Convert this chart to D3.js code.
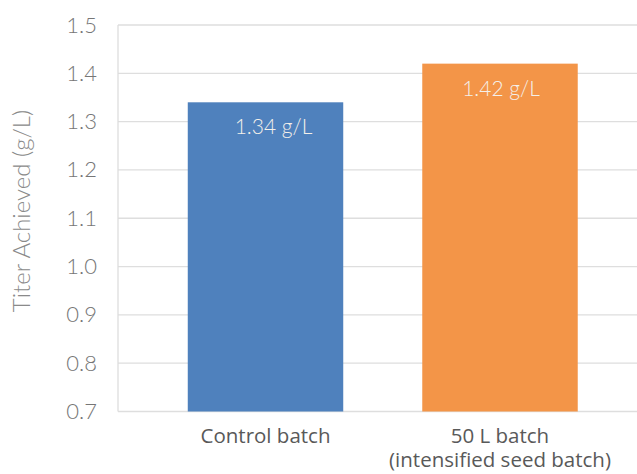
<!DOCTYPE html>
<html>
<head>
<meta charset="utf-8">
<script src="https://cdn.jsdelivr.net/npm/d3@7"></script>
<style>
  html, body { margin: 0; padding: 0; background: #fff; }
  svg { display: block; }
</style>
</head>
<body>
<svg id="chart" width="637" height="474"></svg>
<script>
// Batch titers (g/L)
const categories = ["Control batch", "50 L batch\n(intensified seed batch)"];
const titers = [1.34, 1.42];
const barColors = ["#4f81bd", "#f39548"];
const yTicks = [0.7, 0.8, 0.9, 1.0, 1.1, 1.2, 1.3, 1.4, 1.5];
const yTitle = "Titer Achieved (g/L)";

const svg = d3.select("#chart");
const plotLeft = 118, plotRight = 647.5, plotTop = 25, plotBottom = 411.5;

const x = d3.scaleBand()
  .domain(categories)
  .range([plotLeft, plotRight])
  .paddingInner(0.337)
  .paddingOuter(0.2975);

const y = d3.scaleLinear()
  .domain([0.7, 1.5])
  .range([plotBottom, plotTop]);

// horizontal gridlines
svg.append("g")
  .selectAll("line")
  .data(yTicks)
  .join("line")
  .attr("x1", plotLeft).attr("x2", 637)
  .attr("y1", d => y(d)).attr("y2", d => y(d))
  .attr("stroke", "#dedede")
  .attr("stroke-width", 1.3);

// left axis line
svg.append("line")
  .attr("x1", plotLeft).attr("x2", plotLeft)
  .attr("y1", y(1.5)).attr("y2", y(0.7))
  .attr("stroke", "#dedede")
  .attr("stroke-width", 1.3);

// y axis tick labels
const yAxis = d3.axisLeft(y)
  .tickValues(yTicks)
  .tickFormat(d3.format(".1f"))
  .tickSize(0)
  .tickPadding(21);
const gy = svg.append("g")
  .attr("transform", `translate(${plotLeft},0)`)
  .call(yAxis);
gy.select(".domain").remove();
gy.selectAll("text")
  .attr("fill", "#767676")
  .style("font-family", "Lato, 'Noto Sans', sans-serif")
  .style("font-weight", "300")
  .style("font-size", "22px");

// bars
svg.append("g")
  .selectAll("rect")
  .data(titers)
  .join("rect")
  .attr("x", (d, i) => x(categories[i]))
  .attr("width", x.bandwidth())
  .attr("y", d => y(d))
  .attr("height", d => y(0.7) - y(d))
  .attr("fill", (d, i) => barColors[i]);

// value labels inside bars
svg.append("g")
  .selectAll("text")
  .data(titers)
  .join("text")
  .attr("x", (d, i) => x(categories[i]) + x.bandwidth() / 2 + (i === 0 ? 8 : 1))
  .attr("y", d => y(d) + 32)
  .attr("text-anchor", "middle")
  .attr("fill", "#f4f0ea")
  .style("font-family", "Lato, 'Noto Sans', sans-serif")
  .style("font-weight", "300")
  .style("font-size", "21px")
  .text(d => d.toFixed(2) + " g/L");

// category labels
const xl = svg.append("g")
  .selectAll("text")
  .data(categories)
  .join("text")
  .attr("x", d => x(d) + x.bandwidth() / 2)
  .attr("y", 443)
  .attr("text-anchor", "middle")
  .attr("fill", "#595959")
  .style("font-family", "'Open Sans', sans-serif")
  .style("font-size", "20.5px");
xl.selectAll("tspan")
  .data(d => d.split("\n"))
  .join("tspan")
  .attr("x", function() { return d3.select(this.parentNode).attr("x"); })
  .attr("dy", (d, i) => i === 0 ? 0 : 24)
  .text(d => d);

// y axis title
svg.append("text")
  .attr("transform", `translate(30,211) rotate(-90)`)
  .attr("text-anchor", "middle")
  .attr("fill", "#8a8a8a")
  .style("font-family", "Lato, 'Noto Sans', sans-serif")
  .style("font-weight", "300")
  .style("font-size", "24px")
  .text(yTitle);
</script>
</body>
</html>
